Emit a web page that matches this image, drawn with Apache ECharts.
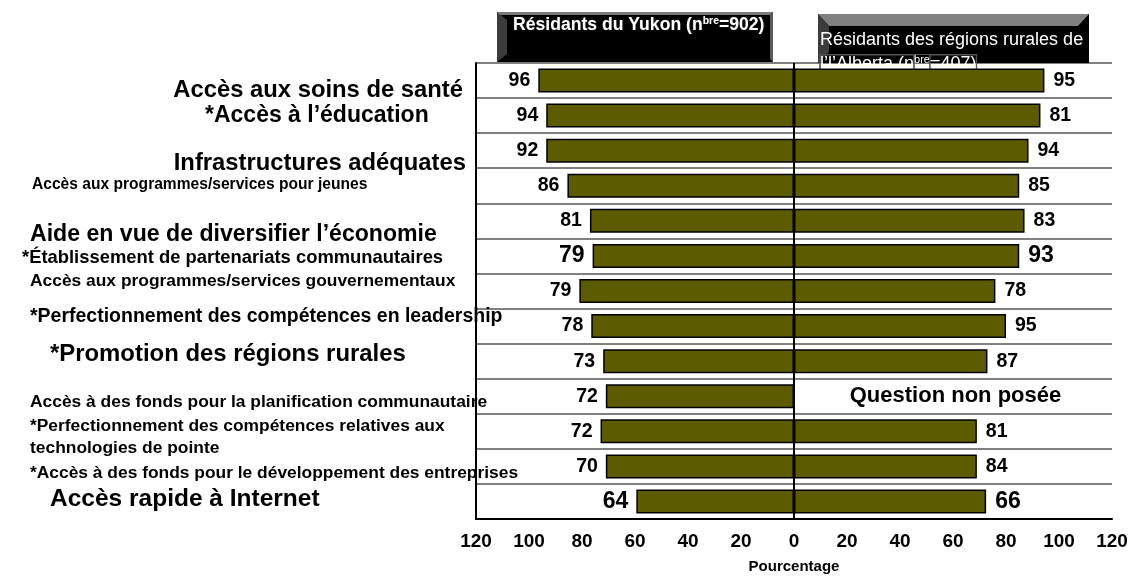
<!DOCTYPE html>
<html><head><meta charset="utf-8">
<script src="https://cdn.jsdelivr.net/npm/echarts@6/dist/echarts.min.js"></script>
<style>html,body{margin:0;padding:0;background:#fff}#c{width:1130px;height:576px}</style>
</head><body><div id="c"></div>
<script>
const CATEGORIES = [
  'Accès aux soins de santé',
  '*Accès à l’éducation',
  'Infrastructures adéquates',
  'Accès aux programmes/services pour jeunes',
  'Aide en vue de diversifier l’économie',
  '*Établissement de partenariats communautaires',
  'Accès aux programmes/services gouvernementaux',
  '*Perfectionnement des compétences en leadership',
  '*Promotion des régions rurales',
  'Accès à des fonds pour la planification communautaire',
  '*Perfectionnement des compétences relatives aux\ntechnologies de pointe',
  '*Accès à des fonds pour le développement des entreprises',
  'Accès rapide à Internet'
];
// printed values
const YUKON = [96, 94, 92, 86, 81, 79, 79, 78, 73, 72, 72, 70, 64];
const ALBERTA = [95, 81, 94, 85, 83, 93, 78, 95, 87, null, 81, 84, 66];
// bar lengths as drawn in the picture
const YUKON_BAR = [96.5, 93.5, 93.5, 85.5, 77, 76, 81, 76.5, 72, 71, 73, 71, 59.5];
const ALBERTA_BAR = [94.5, 93, 88.5, 85, 87, 85, 76, 80, 73, null, 69, 69, 72.5];
const SERIES_NAMES = ['Résidants du Yukon (nbre=902)', 'Résidants des régions rurales de l’l’Alberta (nbre=407)'];
const NOT_ASKED = 'Question non posée';
const X_MIN = -120, X_MAX = 120, X_STEP = 20;
const AXIS_NAME = 'Pourcentage';

const F = '"Liberation Sans", Arial, sans-serif';
const FN = '"Liberation Sans Narrow", "Arial Narrow", "Liberation Sans", sans-serif';
const BAR = '#5c5b00';
const BIG_ROWS = [5, 12];

// label layout: x, align, dy (from row centre), size, narrow
const LAYOUT = [
  {x: 463, a: 'right', dy: 9.5, s: 23.8, n: false},
  {x: 205, a: 'left', dy: -0.4, s: 23, n: false},
  {x: 466, a: 'right', dy: 12.5, s: 23.8, n: false},
  {x: 32, a: 'left', dy: -0.6, s: 15.6, n: true},
  {x: 30, a: 'left', dy: 13.3, s: 23.1, n: false},
  {x: 22, a: 'left', dy: 2.2, s: 18.4, n: true},
  {x: 30, a: 'left', dy: -9.8, s: 17.4, n: true},
  {x: 30, a: 'left', dy: -9.8, s: 19.5, n: true},
  {x: 50, a: 'left', dy: -7, s: 23.9, n: false},
  {x: 30, a: 'left', dy: 5.9, s: 17.4, n: true},
  {x: 30, a: 'left', dy: 5.8, s: 17.4, n: true},
  {x: 30, a: 'left', dy: 6.7, s: 17.4, n: true},
  {x: 50, a: 'left', dy: -2.3, s: 24.5, n: false}
];

const chart = echarts.init(document.getElementById('c'), null, {renderer: 'canvas'});

const leftData = YUKON_BAR.map((v, i) => ({
  value: -v,
  label: {fontSize: BIG_ROWS.includes(i) ? 23 : 19.5}
}));
const rightData = ALBERTA_BAR.map((v, i) => {
  if (v === null) {
    return {value: 0, label: {formatter: NOT_ASKED, fontSize: 22, distance: 55}};
  }
  return {value: v, label: {fontSize: BIG_ROWS.includes(i) ? 23 : 19.5}};
});

chart.setOption({
  animation: false,
  grid: {left: 476, right: 18, top: 63, bottom: 57, containLabel: false, outerBoundsMode: 'none'},
  xAxis: {
    type: 'value', min: X_MIN, max: X_MAX, interval: X_STEP,
    axisLine: {show: true, onZero: false, lineStyle: {color: '#000', width: 2}},
    axisTick: {show: false},
    splitLine: {show: false},
    axisLabel: {formatter: v => String(Math.abs(v)), color: '#000', fontFamily: F, fontWeight: 'bold', fontSize: 19, margin: 13},
    name: AXIS_NAME, nameLocation: 'middle', nameGap: 40,
    nameTextStyle: {color: '#000', fontFamily: F, fontWeight: 'bold', fontSize: 15}
  },
  yAxis: {
    type: 'category', inverse: true, data: CATEGORIES,
    axisLine: {show: true, onZero: false, lineStyle: {color: '#000', width: 2}},
    axisTick: {show: false},
    axisLabel: {show: false},
    splitLine: {show: true, lineStyle: {color: '#808080', width: 2}}
  },
  series: [
    {
      name: SERIES_NAMES[0], type: 'bar', data: leftData, barWidth: 24, barGap: '-100%',
      itemStyle: {color: BAR, borderColor: '#000', borderWidth: 1.5},
      label: {show: true, position: 'left', distance: 8, color: '#000', fontFamily: F, fontWeight: 'bold',
        formatter: p => String(YUKON[p.dataIndex])},
      markLine: {silent: true, symbol: 'none', label: {show: false},
        lineStyle: {color: '#000', width: 2, type: 'solid'}, data: [{xAxis: 0}]},
      z: 3
    },
    {
      name: SERIES_NAMES[1], type: 'bar', data: rightData, barWidth: 24,
      itemStyle: {color: BAR, borderColor: '#000', borderWidth: 1.5},
      label: {show: true, position: 'right', distance: 9, color: '#000', fontFamily: F, fontWeight: 'bold',
        formatter: p => String(ALBERTA[p.dataIndex])},
      z: 3
    }
  ]
});

const g = [];
// legend box 1 (Yukon)
g.push({type: 'rect', z: 1, z2: 0, shape: {x: 497, y: 12, width: 276, height: 50}, style: {fill: '#000'}});
g.push({type: 'polygon', z: 1, z2: 1, shape: {points: [[497, 12], [507, 20], [507, 54], [497, 62]]}, style: {fill: '#3c3c3c'}});
g.push({type: 'polygon', z: 1, z2: 1, shape: {points: [[497, 12], [773, 12], [770, 15], [500, 15]]}, style: {fill: '#7a7a7a'}});
g.push({type: 'polygon', z: 1, z2: 1, shape: {points: [[773, 12], [773, 62], [770, 59], [770, 15]]}, style: {fill: '#5a5a5a'}});
g.push({type: 'text', z: 2, x: 513, y: 25, style: {
  text: '{a|Résidants du Yukon (n}{s|bre}{a|=902)}', fill: '#fff', verticalAlign: 'middle',
  textShadowColor: '#333', textShadowBlur: 2,
  rich: {a: {fontFamily: F, fontWeight: 'bold', fontSize: 17.6, fill: '#fff'},
         s: {fontFamily: F, fontWeight: 'bold', fontSize: 10.5, fill: '#fff', padding: [0, 0, 8, 0]}}
}});
// legend box 2 (Alberta)
g.push({type: 'rect', z: 1, z2: 0, shape: {x: 818, y: 14, width: 271, height: 49}, style: {fill: '#000'}});
g.push({type: 'polygon', z: 1, z2: 1, shape: {points: [[818, 14], [1089, 14], [1078, 26], [829, 26]]}, style: {fill: '#808080'}});
g.push({type: 'polygon', z: 1, z2: 1, shape: {points: [[818, 14], [829, 26], [829, 52], [818, 63]]}, style: {fill: '#3c3c3c'}});
g.push({type: 'text', z: 2, x: 820, y: 40, style: {
  text: 'Résidants des régions rurales de', fill: '#fff', verticalAlign: 'middle',
  fontFamily: F, fontSize: 18
}});
g.push({type: 'text', z: 2, x: 820, y: 64, style: {
  text: '{a|l’l’Alberta (n}{s|bre}{a|=407)}', fill: '#fff', verticalAlign: 'middle',
  textBorderColor: '#555', textBorderWidth: 1.2,
  rich: {a: {fontFamily: F, fontSize: 18, fill: '#fff', textBorderColor: '#555', textBorderWidth: 1.2},
         s: {fontFamily: F, fontSize: 11, fill: '#fff', textBorderColor: '#555', textBorderWidth: 1, padding: [0, 0, 8, 0]}}
}});

// category labels
CATEGORIES.forEach((c, i) => {
  const L = LAYOUT[i];
  const cy = chart.convertToPixel({yAxisIndex: 0}, i);
  g.push({type: 'text', z: 50, x: L.x, y: cy + L.dy, style: {
    text: c, fill: '#000', align: L.a, verticalAlign: 'middle',
    fontFamily: L.n ? FN : F, fontWeight: 'bold', fontSize: L.s, lineHeight: L.s * 1.3
  }});
});

chart.setOption({graphic: g});
</script></body></html>
